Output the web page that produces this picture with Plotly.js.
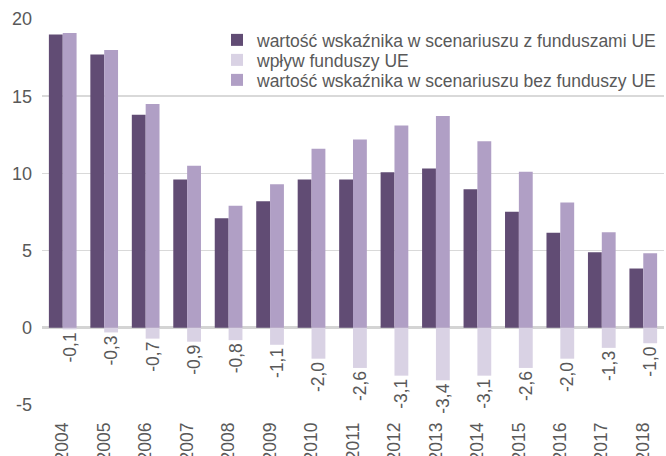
<!DOCTYPE html>
<html>
<head>
<meta charset="utf-8">
<script src="https://cdn.plot.ly/plotly-3.0.1.min.js"></script>
<style>html,body{margin:0;padding:0;background:#fff;}#chart{width:666px;height:456px;}</style>
</head>
<body>
<div id="chart"></div>
<script>
const years = ['2004','2005','2006','2007','2008','2009','2010','2011','2012','2013','2014','2015','2016','2017','2018'];
const withFunds = [19.0, 17.7, 13.8, 9.6, 7.1, 8.2, 9.6, 9.6, 10.07, 10.31, 8.97, 7.51, 6.15, 4.89, 3.84];
const impact = [-0.1, -0.3, -0.7, -0.9, -0.8, -1.1, -2.0, -2.6, -3.1, -3.4, -3.1, -2.6, -2.0, -1.3, -1.0];
const withoutFunds = [19.1, 18.0, 14.5, 10.5, 7.9, 9.3, 11.6, 12.2, 13.11, 13.72, 12.08, 10.1, 8.11, 6.19, 4.83];
const seriesNames = [
  'warto\u015b\u0107 wska\u017anika w scenariuszu z funduszami UE',
  'wp\u0142yw funduszy UE',
  'warto\u015b\u0107 wska\u017anika w scenariuszu bez funduszy UE'
];
const yTickVals = [-5, 0, 5, 10, 15, 20];
const yTickText = ['-5', '0', '5', '10', '15', '20'];

const FONT = 'Liberation Sans, Arial, sans-serif';
const GRAY = '#595959';

const traces = [
  {type:'bar', name: seriesNames[0], x: years, y: withFunds, offsetgroup:'a', legend:'legend',
   marker:{color:'#614c74'}, hoverinfo:'skip'},
  {type:'bar', name: seriesNames[1], x: years, y: impact, offsetgroup:'b', legend:'legend2',
   marker:{color:'#d9d2e4'}, hoverinfo:'skip',
   text: impact.map(v => v.toFixed(1).replace('.', ',')),
   textposition:'outside', textangle:-90, constraintext:'none', cliponaxis:false,
   outsidetextfont:{family:FONT, size:17.5, color:GRAY}},
  {type:'bar', name: seriesNames[2], x: years, y: withoutFunds, offsetgroup:'b', legend:'legend3',
   marker:{color:'#b09fc5'}, hoverinfo:'skip'}
];

function leg(topPx) {
  return {xref:'container', yref:'container', x:217/666, y:1 - topPx/456,
          xanchor:'left', yanchor:'top', bgcolor:'rgba(0,0,0,0)',
          font:{family:FONT, size:17.5, color:GRAY}, itemwidth:30};
}

const layout = {
  width:666, height:456,
  margin:{l:42, r:2, t:19, b:51, autoexpand:false},
  paper_bgcolor:'#fff', plot_bgcolor:'#fff',
  font:{family:FONT, size:17.5, color:GRAY},
  barmode:'group', bargap:0.332, bargroupgap:0,
  showlegend:true,
  legend: leg(22),
  legend2: leg(42),
  legend3: leg(62),
  xaxis:{type:'category', tickangle:-90, showgrid:false, zeroline:false, showline:false,
         ticks:'', ticklabelstandoff:13, automargin:false,
         tickfont:{family:FONT, size:17.5, color:GRAY}},
  yaxis:{range:[-5,20], tickvals:yTickVals, ticktext:yTickText, showgrid:true,
         gridcolor:'#d9d9d9', gridwidth:1.5, zeroline:true, zerolinecolor:'#d4d4d4',
         zerolinewidth:3, showline:false, ticks:'', ticklabelstandoff:9, automargin:false,
         tickfont:{family:FONT, size:18, color:GRAY}}
};

Plotly.newPlot('chart', traces, layout, {displayModeBar:false, staticPlot:true});
</script>
</body>
</html>
